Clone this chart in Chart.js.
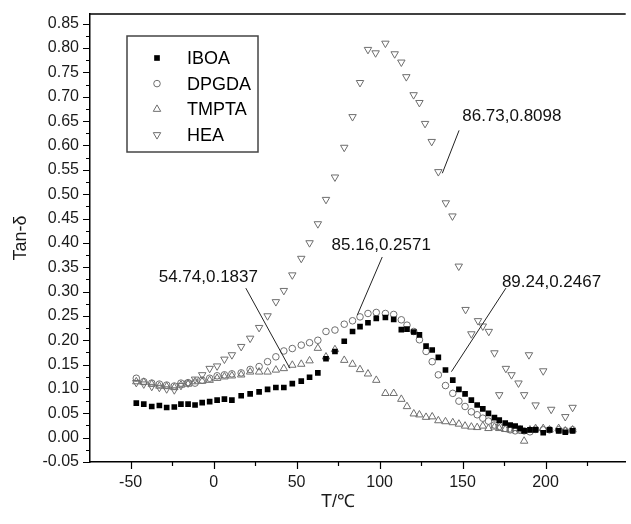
<!DOCTYPE html>
<html>
<head>
<meta charset="utf-8">
<title>Tan-δ vs T</title>
<script src="https://cdn.jsdelivr.net/npm/chart.js@4.4.0/dist/chart.umd.min.js"></script>
<style>
  html, body { margin: 0; padding: 0; background: #fff; }
</style>
</head>
<body>
<canvas id="myChart" width="631" height="524"></canvas>
<script>
// temperature steps shared by IBOA, DPGDA and TMPTA (°C)
const temps = [-46.6, -42.1, -37.3, -32.7, -28.3, -23.7, -19.7, -15.4, -11.2, -6.9,
  -2.4, 2.1, 6.5, 11.0, 16.6, 22.0, 27.4, 32.5, 37.5, 42.3,
  47.4, 52.8, 57.8, 62.8, 67.7, 73.1, 78.7, 83.7, 88.2, 93.0,
  98.0, 103.5, 108.5, 113.1, 116.5, 120.6, 124.0, 128.0, 131.7, 135.4,
  139.7, 144.1, 147.8, 151.5, 155.3, 158.8, 162.2, 165.6, 169.2, 172.1,
  175.7, 178.7, 181.7, 184.7, 187.1, 190.6, 194.0, 198.6, 202.4, 207.9,
  211.9, 216.3];

const iboa = [0.071, 0.069, 0.064, 0.066, 0.062, 0.063, 0.069, 0.069, 0.067, 0.072,
  0.074, 0.077, 0.079, 0.077, 0.086, 0.090, 0.094, 0.099, 0.103, 0.103,
  0.111, 0.116, 0.124, 0.133, 0.162, 0.177, 0.198, 0.218, 0.228, 0.236,
  0.245, 0.2467, 0.243, 0.222, 0.223, 0.217, 0.211, 0.188, 0.180, 0.165,
  0.139, 0.118, 0.099, 0.090, 0.077, 0.067, 0.059, 0.050, 0.041, 0.036,
  0.030, 0.026, 0.024, 0.019, 0.014, 0.016, 0.016, 0.010, 0.016, 0.014,
  0.011, 0.014];

const dpgda = [0.122, 0.115, 0.112, 0.110, 0.108, 0.106, 0.112, 0.113, 0.112, 0.118,
  0.122, 0.127, 0.129, 0.131, 0.133, 0.140, 0.146, 0.156, 0.166, 0.178,
  0.183, 0.190, 0.195, 0.200, 0.218, 0.221, 0.233, 0.240, 0.248, 0.255,
  0.2571, 0.255, 0.253, 0.242, 0.231, 0.218, 0.201, 0.177, 0.156, 0.129,
  0.107, 0.091, 0.075, 0.064, 0.053, 0.047, 0.040, 0.034, 0.026, 0.023,
  0.019, 0.016, 0.014, 0.015, 0.014, 0.012, 0.017, 0.016, 0.016, 0.016,
  0.014, 0.016];

const tmpta = [0.115, 0.114, 0.110, 0.106, 0.105, 0.103, 0.108, 0.110, 0.115, 0.116,
  0.118, 0.122, 0.125, 0.127, 0.129, 0.135, 0.135, 0.135, 0.139, 0.142,
  0.149, 0.151, 0.158, 0.1837, 0.166, 0.181, 0.159, 0.151, 0.140, 0.131,
  0.118, 0.091, 0.091, 0.079, 0.064, 0.049, 0.047, 0.042, 0.043, 0.035,
  0.033, 0.031, 0.028, 0.024, 0.022, 0.021, 0.024, 0.019, 0.022, 0.019,
  0.017, 0.016, 0.019, 0.016, -0.007, 0.016, 0.019, 0.019, 0.016, 0.019,
  0.014, 0.016];

// HEA was sampled on its own steps
const heaTemps = [-46.6, -42.1, -37.3, -32.7, -28.3, -23.7, -19.7, -15.4, -11.2, -6.9,
  -2.4, 2.1, 6.5, 11.0, 16.6, 22.0, 27.4, 32.5, 37.5, 42.3,
  47.4, 52.8, 57.8, 62.8, 67.7, 73.1, 78.7, 83.7, 88.2, 93.0,
  97.6, 103.5, 109.1, 113.1, 116.1, 120.5, 124.0, 127.4, 131.4, 135.4,
  139.9, 143.9, 147.7, 151.8, 155.3, 159.3, 162.2, 165.8, 169.2, 172.1,
  176.1, 179.5, 183.7, 187.1, 190.0, 194.0, 198.6, 203.4, 211.9, 216.3];

const hea = [0.113, 0.110, 0.105, 0.103, 0.100, 0.098, 0.107, 0.112, 0.120, 0.129,
  0.142, 0.147, 0.161, 0.170, 0.187, 0.204, 0.226, 0.250, 0.279, 0.302,
  0.334, 0.368, 0.400, 0.439, 0.489, 0.535, 0.596, 0.659, 0.729, 0.797,
  0.790, 0.8098, 0.788, 0.771, 0.741, 0.704, 0.688, 0.645, 0.608, 0.546,
  0.482, 0.455, 0.352, 0.263, 0.213, 0.240, 0.229, 0.218, 0.174, 0.088,
  0.142, 0.129, 0.112, 0.088, 0.170, 0.067, 0.137, 0.058, 0.043, 0.062];

const xTicks = [-50, 0, 50, 100, 150, 200];
const yTicks = [-0.05, 0, 0.05, 0.10, 0.15, 0.20, 0.25, 0.30, 0.35, 0.40,
  0.45, 0.50, 0.55, 0.60, 0.65, 0.70, 0.75, 0.80, 0.85];

// peak callouts: text centre and leader line, in data units
const notes = [
  { text: '86.73,0.8098', x: 179.7, y: 0.659, from: [147.9, 0.631], to: [137.8, 0.543] },
  { text: '85.16,0.2571', x: 101.0, y: 0.394, from: [101.6, 0.371], to: [86.6, 0.252] },
  { text: '54.74,0.1837', x: -3.2, y: 0.330, from: [19.4, 0.307], to: [45.9, 0.1425] },
  { text: '89.24,0.2467', x: 203.6, y: 0.320, from: [176.1, 0.307], to: [143.3, 0.1355] }
];

const FONT = "'Liberation Sans', Arial, sans-serif";
Chart.defaults.font.family = FONT;
Chart.defaults.color = '#1a1a1a';

const pts = (xs, ys) => xs.map((t, i) => ({ x: t, y: ys[i] }));
const grey = '#6e6e6e';

const datasets = [
  { label: 'IBOA', data: pts(temps, iboa), pointStyle: 'rect', pointRadius: 4.0,
    backgroundColor: '#000', borderColor: '#000', borderWidth: 0 },
  { label: 'DPGDA', data: pts(temps, dpgda), pointStyle: 'circle', pointRadius: 3.3,
    backgroundColor: 'rgba(0,0,0,0)', borderColor: grey, borderWidth: 1 },
  { label: 'TMPTA', data: pts(temps, tmpta), pointStyle: 'triangle', pointRadius: 4.3,
    backgroundColor: 'rgba(0,0,0,0)', borderColor: grey, borderWidth: 1 },
  { label: 'HEA', data: pts(heaTemps, hea), pointStyle: 'triangle', rotation: 180, pointRadius: 4.3,
    backgroundColor: 'rgba(0,0,0,0)', borderColor: grey, borderWidth: 1 }
];

// frame top, tick marks, callouts, legend box and the x title
const extras = {
  id: 'extras',
  afterDraw(chart) {
    const { ctx, chartArea: a, scales: { x, y } } = chart;
    ctx.save();
    ctx.strokeStyle = '#000';
    ctx.lineWidth = 1.5;
    ctx.beginPath();
    ctx.moveTo(a.left, a.top);
    ctx.lineTo(a.right, a.top);
    ctx.stroke();

    ctx.lineWidth = 1.2;
    ctx.beginPath();
    for (let v = -50; v <= 225; v += 25) {
      const px = Math.round(x.getPixelForValue(v)) + 0.5;
      const len = v % 50 === 0 ? 7 : 4;
      ctx.moveTo(px, a.bottom);
      ctx.lineTo(px, a.bottom + len);
    }
    for (let i = 0; i <= 36; i++) {
      const py = Math.round(y.getPixelForValue(-0.05 + i * 0.025)) + 0.5;
      const len = i % 2 === 0 ? 7 : 4;
      ctx.moveTo(a.left, py);
      ctx.lineTo(a.left - len, py);
    }
    ctx.stroke();

    ctx.strokeStyle = '#222';
    ctx.lineWidth = 1;
    ctx.fillStyle = '#111';
    ctx.font = '17px ' + FONT;
    ctx.textAlign = 'center';
    ctx.textBaseline = 'middle';
    notes.forEach(n => {
      ctx.beginPath();
      ctx.moveTo(x.getPixelForValue(n.from[0]), y.getPixelForValue(n.from[1]));
      ctx.lineTo(x.getPixelForValue(n.to[0]), y.getPixelForValue(n.to[1]));
      ctx.stroke();
      ctx.fillText(n.text, x.getPixelForValue(n.x), y.getPixelForValue(n.y));
    });

    const bx = a.left + 37, by = a.top + 22;
    ctx.strokeStyle = '#444';
    ctx.lineWidth = 1.5;
    ctx.strokeRect(bx, by, 131, 116);
    ctx.font = '18px ' + FONT;
    ctx.textAlign = 'left';
    chart.data.datasets.forEach((ds, i) => {
      const cy = by + 22 + i * 25.6;
      ctx.fillStyle = ds.backgroundColor;
      ctx.strokeStyle = ds.borderColor;
      ctx.lineWidth = ds.borderWidth;
      Chart.helpers.drawPoint(ctx, {
        pointStyle: ds.pointStyle, rotation: ds.rotation || 0,
        radius: ds.pointRadius, borderWidth: ds.borderWidth
      }, bx + 30, cy);
      ctx.fillStyle = '#000';
      ctx.fillText(ds.label, bx + 60, cy + 1);
    });

    ctx.fillStyle = '#1a1a1a';
    ctx.font = '18px ' + FONT;
    ctx.textAlign = 'center';
    ctx.fillText('T/℃', x.getPixelForValue(75), 502);
    ctx.restore();
  }
};

new Chart(document.getElementById('myChart'), {
  type: 'scatter',
  data: { datasets },
  options: {
    responsive: false,
    animation: false,
    layout: { padding: { top: 14, left: 0, right: 0, bottom: 0 } },
    plugins: { legend: { display: false }, tooltip: { enabled: false } },
    scales: {
      x: {
        min: -74.5, max: 248.3,
        afterFit: s => { s.height = 62; s.paddingLeft = 0; s.paddingRight = 0; },
        afterBuildTicks: s => { s.ticks = xTicks.map(v => ({ value: v })); },
        grid: { display: false, drawTicks: false },
        border: { display: true, color: '#000', width: 1.5 },
        ticks: { padding: 11, font: { size: 16 }, maxRotation: 0 }
      },
      y: {
        min: -0.05, max: 0.87,
        // keep the label overhang from pushing the plot area down
        afterFit: s => { s.width = 90; s.paddingTop = 0; s.paddingBottom = 0; },
        afterBuildTicks: s => { s.ticks = yTicks.map(v => ({ value: v })); },
        grid: { display: false, drawTicks: false },
        border: { display: true, color: '#000', width: 1.5 },
        ticks: { padding: 11, font: { size: 16 }, callback: v => v.toFixed(2) },
        title: { display: true, text: 'Tan-δ', font: { size: 18 }, padding: { top: 10, bottom: 0 } }
      }
    }
  },
  plugins: [extras]
});
</script>
</body>
</html>
